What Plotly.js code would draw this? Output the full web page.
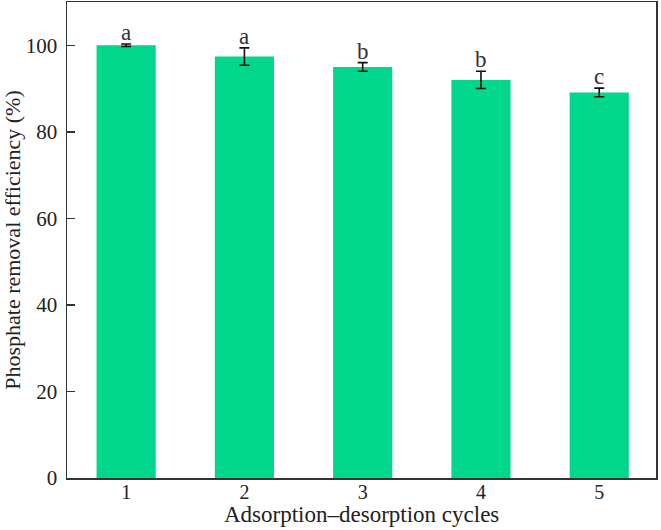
<!DOCTYPE html>
<html>
<head>
<meta charset="utf-8">
<script src="https://cdn.plot.ly/plotly-3.0.1.min.js"></script>
<style>html,body{margin:0;padding:0;background:#fff;}#chart{width:661px;height:530px;}</style>
</head>
<body>
<div id="chart"></div>
<script>
const cycles = [1, 2, 3, 4, 5];
const efficiency = [100.0, 97.4, 95.0, 92.0, 89.1];
const errors = [0.3, 2.0, 1.0, 2.0, 1.0];
const letters = ['a', 'a', 'b', 'b', 'c'];
const xTitle = 'Adsorption–desorption cycles';
const yTitle = 'Phosphate removal efficiency (%)';

const fontFam = 'Liberation Serif, Times New Roman, serif';

const trace = {
  type: 'bar',
  x: cycles,
  y: efficiency,
  width: 0.5,
  marker: {color: '#00D68C', line: {width: 0}},
  error_y: {type: 'data', array: errors, visible: true, color: '#111', thickness: 1.6, width: 5},
  hoverinfo: 'skip'
};

const annotations = cycles.map((c, i) => ({
  x: c, y: efficiency[i] + errors[i], xref: 'x', yref: 'y',
  text: letters[i], showarrow: false, yanchor: 'bottom', yshift: -3,
  font: {family: fontFam, size: 23, color: '#333'}
}));
annotations.push({
  x: 0.5, y: 0, xref: 'paper', yref: 'paper', xanchor: 'center', yanchor: 'bottom',
  yshift: -51, text: xTitle, showarrow: false,
  font: {family: fontFam, size: 23, color: '#222'}
});

const layout = {
  width: 661, height: 530,
  margin: {l: 67, r: 5, t: 2, b: 52},
  paper_bgcolor: '#fff', plot_bgcolor: '#fff',
  showlegend: false,
  font: {family: fontFam, color: '#222'},
  xaxis: {
    range: [0.5, 5.48], tickvals: cycles, ticktext: cycles.map(String),
    ticks: '', showgrid: false, zeroline: false,
    showline: true, mirror: true, linecolor: '#333', linewidth: 1.5,
    tickfont: {family: fontFam, size: 20, color: '#222'},
    ticklabelstandoff: -5
  },
  yaxis: {
    range: [0, 110], tickvals: [0, 20, 40, 60, 80, 100],
    ticks: 'inside', ticklen: 8, tickwidth: 1.5, tickcolor: '#333',
    showgrid: false, zeroline: false,
    showline: true, mirror: true, linecolor: '#333', linewidth: 1.5,
    tickfont: {family: fontFam, size: 21, color: '#222'},
    ticklabelstandoff: 4,
    title: {text: yTitle, font: {family: fontFam, size: 22, color: '#222'}, standoff: 4}
  },
  annotations: annotations
};

Plotly.newPlot('chart', [trace], layout, {displayModeBar: false, staticPlot: true});
</script>
</body>
</html>
